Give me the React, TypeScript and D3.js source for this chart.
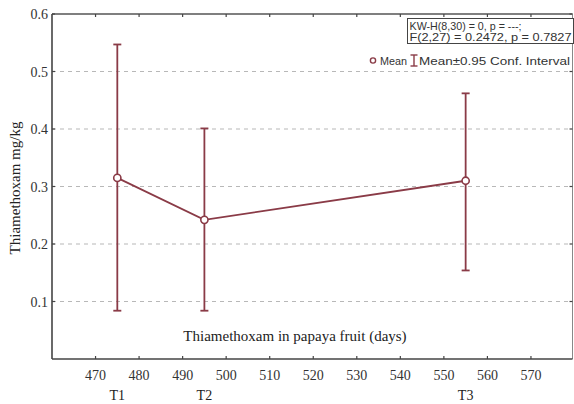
import React from "react";
import * as d3 from "d3";

const categories = ["T1", "T2", "T3"];
const days = [475, 495, 555];
const means = [0.315, 0.242, 0.31];
const lower = [0.084, 0.084, 0.154];
const upper = [0.547, 0.401, 0.462];
const xTicks = [470, 480, 490, 500, 510, 520, 530, 540, 550, 560, 570];
const yTicks = [0.1, 0.2, 0.3, 0.4, 0.5, 0.6];
const statsLines = ["KW-H(8,30) = 0, p = ---;", "F(2,27) = 0.2472, p = 0.7827"];

const W = 574, H = 404;
const L = 52, R = 574.5, T = 14, B = 359;
const red = "#8a3b47";
const serif = "'Liberation Serif', 'DejaVu Serif', serif";
const sans = "'Liberation Sans', Arial, sans-serif";

export default function App() {
  const x = d3.scaleLinear().domain([460, 580]).range([L, R]);
  const y = d3.scaleLinear().domain([0, 0.6]).range([B, T]);
  const line = d3.line<number>().x((_, i) => x(days[i])).y((d) => y(d));
  return (
    <svg width={W} height={H} style={{ position: "absolute", left: 0, top: 0, background: "#fff" }}>
      <rect x={0} y={0} width={W} height={H} fill="#fff" />
      {yTicks.filter((v) => v < 0.6).map((v) => (
        <line key={v} x1={L} x2={572.5} y1={y(v)} y2={y(v)} stroke="#b8b8b8" strokeWidth={1.2} strokeDasharray="4,4" />
      ))}
      {/* frame */}
      <line x1={L} x2={572.5} y1={T} y2={T} stroke="#555" strokeWidth={1.5} />
      <line x1={572.5} x2={572.5} y1={T} y2={B} stroke="#888" strokeWidth={1} />
      <line x1={L} x2={L} y1={T} y2={B} stroke="#444" strokeWidth={1.6} />
      <line x1={L} x2={572.5} y1={B} y2={B} stroke="#444" strokeWidth={1.6} />
      {xTicks.map((v) => (
        <g key={v}>
          <line x1={x(v)} x2={x(v)} y1={T} y2={T + 3} stroke="#444" strokeWidth={1.2} />
          <line x1={x(v)} x2={x(v)} y1={B} y2={B - 3} stroke="#444" strokeWidth={1.2} />
          <text x={x(v)} y={379.5} textAnchor="middle" fontFamily={serif} fontSize={14} fill="#333">{v}</text>
        </g>
      ))}
      {yTicks.map((v) => (
        <g key={v}>
          <line x1={L} x2={L + 3} y1={y(v)} y2={y(v)} stroke="#444" strokeWidth={1.2} />
          <line x1={572.5} x2={569.5} y1={y(v)} y2={y(v)} stroke="#444" strokeWidth={1.2} />
          <text x={48} y={y(v) + 5} textAnchor="end" fontFamily={serif} fontSize={14} fill="#333">{v.toFixed(1)}</text>
        </g>
      ))}
      <text transform={`translate(20,188) rotate(-90)`} textAnchor="middle" fontFamily={serif} fontSize={15} fill="#222">Thiamethoxam mg/kg</text>
      <text x={295} y={341} textAnchor="middle" fontFamily={serif} fontSize={15} fill="#222">Thiamethoxam in papaya fruit (days)</text>
      {categories.map((c, i) => (
        <text key={c} x={x(days[i])} y={400} textAnchor="middle" fontFamily={serif} fontSize={14} fill="#222">{c}</text>
      ))}
      {/* error bars */}
      {days.map((d, i) => (
        <g key={d} stroke={red} strokeWidth={1.8}>
          <line x1={x(d)} x2={x(d)} y1={y(upper[i])} y2={y(lower[i])} />
          <line x1={x(d) - 4} x2={x(d) + 4} y1={y(upper[i])} y2={y(upper[i])} />
          <line x1={x(d) - 4} x2={x(d) + 4} y1={y(lower[i])} y2={y(lower[i])} />
        </g>
      ))}
      <path d={line(means) || ""} fill="none" stroke={red} strokeWidth={1.8} />
      {means.map((m, i) => (
        <circle key={i} cx={x(days[i])} cy={y(m)} r={3.6} fill="#fff" stroke={red} strokeWidth={1.6} />
      ))}
      {/* stats box */}
      <rect x={407.5} y={18.5} width={166} height={25} fill="#fff" stroke="#444" strokeWidth={1} />
      {statsLines.map((s, i) => (
        <text key={i} x={409.5} y={30 + i * 11} fontFamily={sans} fontSize={11} fill="#333" textLength={i === 0 ? 112 : 162} lengthAdjust="spacingAndGlyphs">{s}</text>
      ))}
      {/* legend */}
      <circle cx={373} cy={60.5} r={2.6} fill="#fff" stroke={red} strokeWidth={1.4} />
      <text x={380} y={64.5} fontFamily={sans} fontSize={11} fill="#333" textLength={27} lengthAdjust="spacingAndGlyphs">Mean</text>
      <g stroke={red} strokeWidth={1.4}>
        <line x1={414} x2={414} y1={55} y2={66} />
        <line x1={410.5} x2={417.5} y1={55} y2={55} />
        <line x1={410.5} x2={417.5} y1={66} y2={66} />
      </g>
      <text x={419} y={64.5} fontFamily={sans} fontSize={11} fill="#333" textLength={151} lengthAdjust="spacingAndGlyphs">Mean±0.95 Conf. Interval</text>
    </svg>
  );
}
